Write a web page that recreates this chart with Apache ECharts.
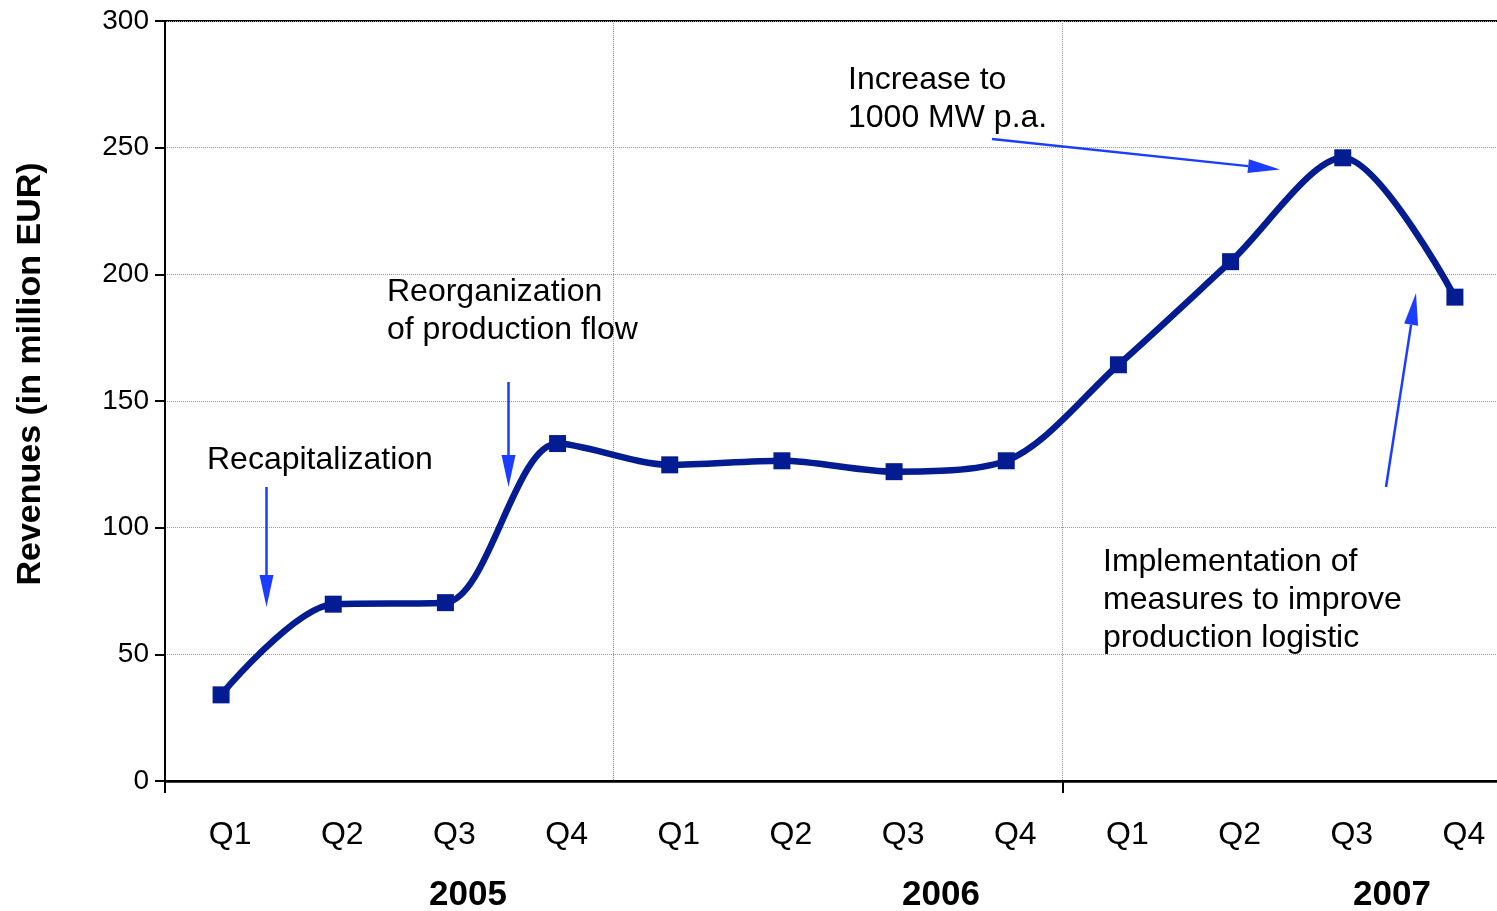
<!DOCTYPE html>
<html><head><meta charset="utf-8">
<script src="https://cdn.jsdelivr.net/npm/echarts@6/dist/echarts.min.js"></script>
<style>html,body{margin:0;padding:0;background:#fff;overflow:hidden}#chart{width:1511px;height:911px}</style>
</head><body><div id="chart"></div>
<script>
// ---- data ----
const quarters = ['Q1','Q2','Q3','Q4','Q1','Q2','Q3','Q4','Q1','Q2','Q3','Q4'];
const years = ['2005','2006','2007'];
const revenues = [34, 69.8, 70.4, 133.2, 124.8, 126.4, 122.1, 126.4, 164.3, 205, 246, 191];
const yMin = 0, yMax = 300, yStep = 50;
const yTitle = 'Revenues (in million EUR)';
const noteTexts = [
  'Recapitalization',
  'Reorganization\nof production flow',
  'Increase to\n1000 MW p.a.',
  'Implementation of\nmeasures to improve\nproduction logistic'
];

// ---- layout / styling ----
const FONT = '"Liberation Sans", Arial, Helvetica, sans-serif';
const ARROW = '#1a3dff';
const LINE = '#031c91';
const notePos = [
  {x: 207, y: 460, va: 'middle'},
  {x: 387, y: 273, va: 'top'},
  {x: 848, y: 61, va: 'top'},
  {x: 1103, y: 543, va: 'top'}
];
const arrowPos = [
  [266.5, 487, 266.5, 607],
  [508.5, 382, 508.5, 487],
  [992, 139, 1280, 169.5],
  [1386, 487, 1416, 293]
];
const yearPos = [468, 941, 1392];

function arrow(p) {
  const [x1, y1, x2, y2] = p;
  const dx = x2 - x1, dy = y2 - y1, L = Math.hypot(dx, dy);
  const ux = dx / L, uy = dy / L, hl = 32, hw = 7;
  const bx = x2 - ux * hl, by = y2 - uy * hl;
  return [
    {type: 'line', z: 100, shape: {x1: x1, y1: y1, x2: bx, y2: by}, style: {stroke: ARROW, lineWidth: 2.5}},
    {type: 'polygon', z: 100, shape: {points: [[x2, y2], [bx - uy * hw, by + ux * hw], [bx + uy * hw, by - ux * hw]]}, style: {fill: ARROW}}
  ];
}

const graphics = [];
noteTexts.forEach((t, i) => {
  graphics.push({type: 'text', z: 100, style: {text: t, x: notePos[i].x, y: notePos[i].y, font: '32px ' + FONT, fill: '#000', align: 'left', verticalAlign: notePos[i].va, lineHeight: 38}});
});
arrowPos.forEach(p => arrow(p).forEach(g => graphics.push(g)));
years.forEach((y, i) => {
  graphics.push({type: 'text', z: 100, style: {text: y, x: yearPos[i], y: 895, font: 'bold 35px ' + FONT, fill: '#000', align: 'center', verticalAlign: 'middle'}});
});
graphics.push({type: 'text', z: 100, x: 31, y: 374, rotation: Math.PI / 2,
  style: {text: yTitle, x: 0, y: 0, font: 'bold 34px ' + FONT, fill: '#000', align: 'center', verticalAlign: 'middle'}});

const chart = echarts.init(document.getElementById('chart'), null, {renderer: 'canvas'});
chart.setOption({
  animation: false,
  backgroundColor: '#fff',
  grid: {left: 165, top: 21, right: 0, bottom: 130, show: true, borderColor: '#000', borderWidth: 2, backgroundColor: 'transparent'},
  xAxis: {
    type: 'category',
    data: quarters,
    boundaryGap: true,
    axisLine: {lineStyle: {color: '#000', width: 2.5}},
    axisTick: {show: true, length: 12, lineStyle: {color: '#000', width: 2}, interval: (i) => i === 0 || i === 8},
    splitLine: {show: true, interval: (i) => i === 4 || i === 8, lineStyle: {color: '#999', width: 1, type: [1, 1]}},
    axisLabel: {fontSize: 32, fontFamily: FONT, color: '#000', margin: 54, verticalAlign: 'middle', padding: [0, 0, 0, 18], interval: 0}
  },
  yAxis: {
    type: 'value',
    min: yMin, max: yMax, interval: yStep,
    axisLine: {show: true, lineStyle: {color: '#000', width: 2}},
    axisTick: {show: true, length: 10, lineStyle: {color: '#000', width: 2}},
    splitLine: {show: true, lineStyle: {color: '#999', width: 1, type: [1, 1]}},
    axisLabel: {fontSize: 28, fontFamily: FONT, color: '#000', margin: 16}
  },
  series: [{
    type: 'line',
    data: revenues,
    smooth: 0.3,
    symbol: 'rect',
    symbolSize: 17,
    showAllSymbol: true,
    itemStyle: {color: LINE},
    lineStyle: {color: LINE, width: 6.5},
    z: 10
  }],
  graphic: graphics
});
</script>
</body></html>
